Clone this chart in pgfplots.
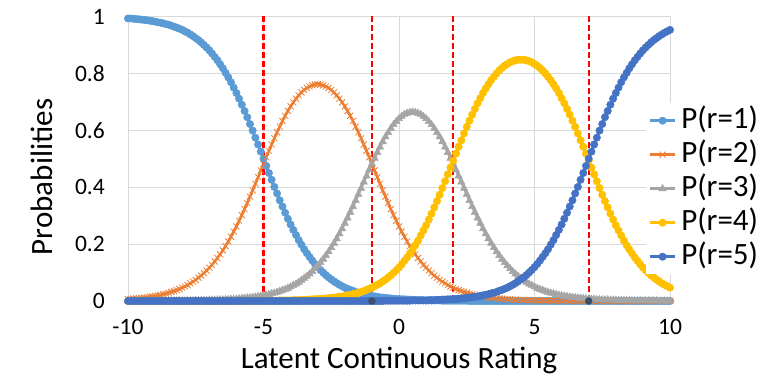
\documentclass[border=0pt]{standalone}
\usepackage{fontspec}
\setmainfont{Carlito}
\usepackage{pgfplots}
\usepackage{pgfplotstable}
\pgfplotsset{compat=1.18}

\definecolor{cone}{HTML}{5B9BD5}
\definecolor{ctwo}{HTML}{ED7D31}
\definecolor{cthree}{HTML}{A5A5A5}
\definecolor{cfour}{HTML}{FFC000}
\definecolor{cfive}{HTML}{4472C4}
\definecolor{gridgray}{HTML}{D9D9D9}
\definecolor{dotgray}{HTML}{3B4F6B}

% x  P(r=1) .. P(r=5)
\pgfplotstableread{
x p1 p2 p3 p4 p5
-10.0 .993 .007 0 0 0
-9.9 .993 .007 0 0 0
-9.8 .992 .008 0 0 0
-9.7 .991 .009 0 0 0
-9.6 .990 .010 0 0 0
-9.5 .989 .011 0 0 0
-9.4 .988 .012 0 0 0
-9.3 .987 .013 0 0 0
-9.2 .985 .015 0 0 0
-9.1 .984 .016 0 0 0
-9.0 .982 .018 0 0 0
-8.9 .980 .019 0 0 0
-8.8 .978 .021 0 0 0
-8.7 .976 .024 0 0 0
-8.6 .973 .026 0 0 0
-8.5 .971 .029 .001 0 0
-8.4 .968 .032 .001 0 0
-8.3 .964 .035 .001 0 0
-8.2 .961 .038 .001 0 0
-8.1 .957 .042 .001 0 0
-8.0 .953 .047 .001 0 0
-7.9 .948 .051 .001 0 0
-7.8 .943 .056 .001 0 0
-7.7 .937 .062 .001 0 0
-7.6 .931 .068 .001 0 0
-7.5 .924 .074 .002 0 0
-7.4 .917 .082 .002 0 0
-7.3 .909 .089 .002 0 0
-7.2 .900 .098 .002 0 0
-7.1 .891 .107 .002 0 0
-7.0 .881 .117 .003 0 0
-6.9 .870 .127 .003 0 0
-6.8 .858 .139 .003 0 0
-6.7 .846 .151 .004 0 0
-6.6 .832 .164 .004 0 0
-6.5 .818 .178 .004 0 0
-6.4 .802 .193 .005 0 0
-6.3 .786 .209 .005 0 0
-6.2 .769 .226 .006 0 0
-6.1 .750 .244 .006 0 0
-6.0 .731 .262 .007 0 0
-5.9 .711 .282 .008 0 0
-5.8 .690 .302 .009 0 0
-5.7 .668 .323 .010 0 0
-5.6 .646 .344 .011 0 0
-5.5 .622 .367 .012 .001 0
-5.4 .599 .389 .013 .001 0
-5.3 .574 .412 .014 .001 0
-5.2 .550 .435 .016 .001 0
-5.1 .525 .459 .017 .001 0
-5.0 .500 .482 .019 .001 0
-4.9 .475 .505 .021 .001 0
-4.8 .450 .528 .023 .001 0
-4.7 .426 .550 .026 .001 0
-4.6 .401 .572 .028 .001 0
-4.5 .378 .593 .031 .001 0
-4.4 .354 .613 .034 .002 0
-4.3 .332 .633 .038 .002 0
-4.2 .310 .651 .041 .002 0
-4.1 .289 .668 .045 .002 0
-4.0 .269 .684 .050 .002 0
-3.9 .250 .698 .055 .003 0
-3.8 .232 .711 .060 .003 0
-3.7 .214 .723 .066 .003 0
-3.6 .198 .733 .073 .004 0
-3.5 .182 .742 .080 .004 0
-3.4 .168 .749 .087 .005 0
-3.3 .155 .754 .095 .005 0
-3.2 .142 .758 .104 .006 0
-3.1 .130 .761 .114 .006 0
-3.0 .119 .762 .124 .007 0
-2.9 .109 .761 .135 .007 0
-2.8 .100 .758 .147 .008 0
-2.7 .091 .754 .160 .009 0
-2.6 .083 .749 .173 .010 0
-2.5 .076 .742 .188 .011 0
-2.4 .069 .733 .203 .012 0
-2.3 .063 .723 .219 .013 0
-2.2 .057 .711 .236 .015 0
-2.1 .052 .698 .254 .016 0
-2.0 .047 .684 .273 .018 0
-1.9 .043 .668 .292 .020 0
-1.8 .039 .651 .312 .022 0
-1.7 .036 .633 .332 .024 0
-1.6 .032 .613 .353 .026 0
-1.5 .029 .593 .375 .029 0
-1.4 .027 .572 .396 .032 0
-1.3 .024 .550 .418 .035 0
-1.2 .022 .528 .439 .039 0
-1.1 .020 .505 .461 .043 0
-1.0 .018 .482 .482 .047 0
-0.9 .016 .459 .502 .052 0
-0.8 .015 .435 .522 .057 0
-0.7 .013 .412 .541 .062 0
-0.6 .012 .389 .560 .069 0
-0.5 .011 .367 .577 .075 .001
-0.4 .010 .344 .592 .083 .001
-0.3 .009 .323 .607 .090 .001
-0.2 .008 .302 .620 .099 .001
-0.1 .007 .282 .631 .108 .001
0.0 .007 .262 .641 .118 .001
0.1 .006 .244 .649 .129 .001
0.2 .006 .226 .656 .141 .001
0.3 .005 .209 .660 .153 .001
0.4 .005 .193 .663 .167 .001
0.5 .004 .178 .664 .181 .002
0.6 .004 .164 .663 .196 .002
0.7 .003 .151 .660 .212 .002
0.8 .003 .139 .656 .230 .002
0.9 .003 .127 .649 .248 .002
1.0 .002 .117 .641 .266 .002
1.1 .002 .107 .631 .286 .003
1.2 .002 .098 .620 .307 .003
1.3 .002 .089 .607 .329 .003
1.4 .002 .082 .592 .351 .004
1.5 .002 .074 .577 .373 .004
1.6 .001 .068 .560 .397 .005
1.7 .001 .062 .541 .421 .005
1.8 .001 .056 .522 .445 .006
1.9 .001 .051 .502 .469 .006
2.0 .001 .047 .482 .493 .007
2.1 .001 .042 .461 .518 .007
2.2 .001 .038 .439 .542 .008
2.3 .001 .035 .418 .565 .009
2.4 .001 .032 .396 .589 .010
2.5 .001 .029 .375 .612 .011
2.6 0 .026 .353 .634 .012
2.7 0 .024 .332 .655 .013
2.8 0 .021 .312 .675 .015
2.9 0 .019 .292 .695 .016
3.0 0 .018 .273 .713 .018
3.1 0 .016 .254 .731 .020
3.2 0 .015 .236 .747 .022
3.3 0 .013 .219 .762 .024
3.4 0 .012 .203 .776 .027
3.5 0 .011 .188 .788 .029
3.6 0 .010 .173 .800 .032
3.7 0 .009 .160 .810 .036
3.8 0 .008 .147 .819 .039
3.9 0 .007 .135 .827 .043
4.0 0 .007 .124 .833 .047
4.1 0 .006 .114 .839 .052
4.2 0 .005 .104 .843 .057
4.3 0 .005 .095 .846 .063
4.4 0 .004 .087 .848 .069
4.5 0 .004 .080 .848 .076
4.6 0 .004 .073 .848 .083
4.7 0 .003 .066 .846 .091
4.8 0 .003 .060 .843 .100
4.9 0 .003 .055 .839 .109
5.0 0 .002 .050 .833 .119
5.1 0 .002 .045 .827 .130
5.2 0 .002 .041 .819 .142
5.3 0 .002 .038 .810 .155
5.4 0 .002 .034 .800 .168
5.5 0 .001 .031 .788 .182
5.6 0 .001 .028 .776 .198
5.7 0 .001 .026 .762 .214
5.8 0 .001 .023 .747 .232
5.9 0 .001 .021 .731 .250
6.0 0 .001 .019 .713 .269
6.1 0 .001 .017 .695 .289
6.2 0 .001 .016 .675 .310
6.3 0 .001 .014 .655 .332
6.4 0 .001 .013 .634 .354
6.5 0 .001 .012 .612 .378
6.6 0 0 .011 .589 .401
6.7 0 0 .010 .565 .426
6.8 0 0 .009 .542 .450
6.9 0 0 .008 .518 .475
7.0 0 0 .007 .493 .500
7.1 0 0 .006 .469 .525
7.2 0 0 .006 .445 .550
7.3 0 0 .005 .421 .574
7.4 0 0 .005 .397 .599
7.5 0 0 .004 .373 .622
7.6 0 0 .004 .351 .646
7.7 0 0 .004 .329 .668
7.8 0 0 .003 .307 .690
7.9 0 0 .003 .286 .711
8.0 0 0 .003 .266 .731
8.1 0 0 .002 .248 .750
8.2 0 0 .002 .230 .769
8.3 0 0 .002 .212 .786
8.4 0 0 .002 .196 .802
8.5 0 0 .002 .181 .818
8.6 0 0 .001 .167 .832
8.7 0 0 .001 .153 .846
8.8 0 0 .001 .141 .858
8.9 0 0 .001 .129 .870
9.0 0 0 .001 .118 .881
9.1 0 0 .001 .108 .891
9.2 0 0 .001 .099 .900
9.3 0 0 .001 .090 .909
9.4 0 0 .001 .083 .917
9.5 0 0 .001 .075 .924
9.6 0 0 0 .069 .931
9.7 0 0 0 .062 .937
9.8 0 0 0 .057 .943
9.9 0 0 0 .052 .948
10.0 0 0 0 .047 .953
}\probs

\begin{document}
\begin{tikzpicture}
\begin{axis}[
  at={(128bp,84bp)}, anchor=south west,
  scale only axis, width=542bp, height=284.5bp,
  xmin=-10, xmax=10, ymin=0, ymax=1,
  xtick={-10,-5,0,5,10}, xticklabels={-10,-5,0,5,10},
  ytick={0,0.2,0.4,0.6,0.8,1}, yticklabels={0,0.2,0.4,0.6,0.8,1},
  major tick length=0pt,
  grid=major, grid style={draw=gridgray, line width=1bp},
  axis line style={draw=gridgray, line width=1bp},
  clip=false,
  xticklabel style={font=\fontsize{23.5bp}{28bp}\selectfont, anchor=base, yshift=-33bp},
  yticklabel style={font=\fontsize{23.5bp}{28bp}\selectfont, anchor=east, inner sep=0pt, xshift=-23bp},
  xlabel={Latent Continuous Rating},
  xlabel style={at={(axis description cs:0.5,-0.2355)}, anchor=base, inner sep=0pt,
    font=\fontsize{31bp}{36bp}\selectfont},
  ylabel={Probabilities},
  ylabel style={at={(axis description cs:-0.1384,0.436)}, anchor=base, inner sep=0pt,
    font=\fontsize{31bp}{36bp}\selectfont},
  legend style={at={(axis description cs:0.955,0.696)}, anchor=north west,
    draw=none, fill=white, inner sep=3bp, row sep=5bp,
    font=\fontsize{31bp}{36bp}\selectfont,
    nodes={inner sep=0pt, text height=22bp, text depth=7bp}},
  legend cell align=left,
  legend image code/.code={%
    \draw[mark repeat=2,mark phase=2] plot coordinates {(0bp,0bp) (12.5bp,0bp) (25bp,0bp)};
    \path (30bp,0bp);},
]
\addplot[color=cone, line width=2.5bp, mark=*, mark size=3.7bp,
  mark options={fill=cone, draw=cone, line width=0.5bp}] table[x=x,y=p1]{\probs};
\addlegendentry{P(r=1)}
\addplot[color=ctwo, line width=2.5bp, mark=x, mark size=4.3bp,
  mark options={draw=ctwo, line width=0.8bp}] table[x=x,y=p2]{\probs};
\addlegendentry{P(r=2)}
\addplot[color=cthree, line width=2.5bp, mark=triangle*, mark size=4.2bp,
  mark options={fill=cthree, draw=cthree, line width=0.5bp}] table[x=x,y=p3]{\probs};
\addlegendentry{P(r=3)}
\addplot[color=cfour, line width=2.5bp, mark=*, mark size=3.7bp,
  mark options={fill=cfour, draw=cfour, line width=0.5bp}] table[x=x,y=p4]{\probs};
\addlegendentry{P(r=4)}
\addplot[color=cfive, line width=2.5bp, mark=*, mark size=3.7bp,
  mark options={fill=cfive, draw=cfive, line width=0.5bp}] table[x=x,y=p5]{\probs};
\addlegendentry{P(r=5)}
% thresholds
\addplot[red, line width=2.4bp, dash pattern=on 6bp off 3bp, forget plot] coordinates {(-5,0) (-5,1)};
\addplot[red, line width=2.4bp, dash pattern=on 6bp off 3bp, forget plot] coordinates {(-1,0) (-1,1)};
\addplot[red, line width=2.4bp, dash pattern=on 6bp off 3bp, forget plot] coordinates {(2,0) (2,1)};
\addplot[red, line width=2.4bp, dash pattern=on 6bp off 3bp, forget plot] coordinates {(7,0) (7,1)};
\addplot[only marks, mark=*, mark size=3.5bp, color=dotgray, forget plot] coordinates {(-1,0) (7,0)};
\end{axis}
\pgfresetboundingbox
\useasboundingbox (0,0) rectangle (768bp,385bp);
\end{tikzpicture}
\end{document}
